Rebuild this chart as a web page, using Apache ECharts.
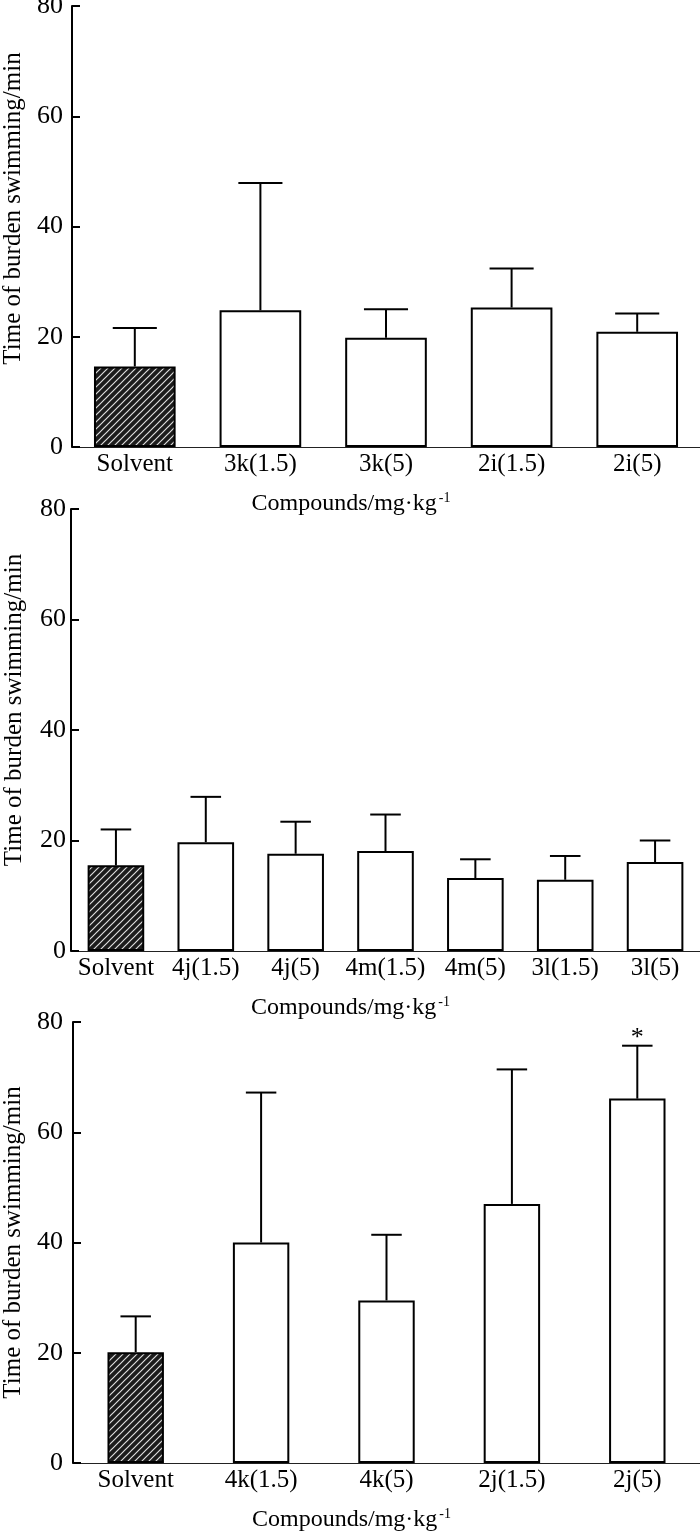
<!DOCTYPE html>
<html>
<head>
<meta charset="utf-8">
<script src="https://cdn.jsdelivr.net/npm/echarts@6/dist/echarts.min.js"></script>
<style>
  html, body { margin: 0; padding: 0; background: #fff; }
  #chart { width: 700px; height: 1534px; }
</style>
</head>
<body>
<div id="chart"></div>
<script>
// panel 1
const cats1 = ['Solvent', '3k(1.5)', '3k(5)', '2i(1.5)', '2i(5)'];
const mean1 = [14.6, 24.8, 19.8, 25.3, 20.9];
const err1 = [7.0, 23.1, 5.2, 7.1, 3.3];
const sig1 = ['', '', '', '', ''];
// panel 2
const cats2 = ['Solvent', '4j(1.5)', '4j(5)', '4m(1.5)', '4m(5)', '3l(1.5)', '3l(5)'];
const mean2 = [15.5, 19.7, 17.6, 18.1, 13.2, 12.9, 16.1];
const err2 = [6.5, 8.2, 5.8, 6.6, 3.4, 4.3, 3.9];
const sig2 = ['', '', '', '', '', '', ''];
// panel 3
const cats3 = ['Solvent', '4k(1.5)', '4k(5)', '2j(1.5)', '2j(5)'];
const mean3 = [20.1, 40.0, 29.5, 47.0, 66.1];
const err3 = [6.5, 27.2, 11.9, 24.4, 9.6];
const sig3 = ['', '', '', '', '*'];

const yTicks = [0, 20, 40, 60, 80];

const FONT = '"Liberation Serif", "Times New Roman", serif';

// hatch pattern for the solvent bar
const hatch = document.createElement('canvas');
hatch.width = 7;
hatch.height = 7;
(function () {
  const ctx = hatch.getContext('2d');
  ctx.fillStyle = '#1c1c1c';
  ctx.fillRect(0, 0, 7, 7);
  ctx.strokeStyle = 'rgba(255,255,255,0.85)';
  ctx.lineWidth = 1.2;
  ctx.beginPath();
  ctx.moveTo(0, 7); ctx.lineTo(7, 0);
  ctx.moveTo(-1, 1); ctx.lineTo(1, -1);
  ctx.moveTo(6, 8); ctx.lineTo(8, 6);
  ctx.stroke();
})();

const panels = [
  { cats: cats1, mean: mean1, err: err1, sig: sig1, barFrac: 0.65, grid: { left: 72, right: 0, top: 6, height: 441 }, labelMargin: 9, namePad: 36 },
  { cats: cats2, mean: mean2, err: err2, sig: sig2, barFrac: 0.63, grid: { left: 71, right: 0, top: 509, height: 442 }, labelMargin: 5, namePad: 40 },
  { cats: cats3, mean: mean3, err: err3, sig: sig3, barFrac: 0.45, grid: { left: 73, right: 0, top: 1022, height: 441 }, labelMargin: 10, namePad: 0 }
];

const grid = [], xAxis = [], yAxis = [], series = [];

panels.forEach((p, k) => {
  grid.push(Object.assign({ containLabel: false, outerBoundsMode: 'none' }, p.grid));
  xAxis.push({
    type: 'category',
    gridIndex: k,
    data: p.cats,
    name: '{a|Compounds/mg·kg}{b|-1}',
    nameLocation: 'middle',
    nameGap: 44,
    nameTextStyle: {
      padding: [0, 70, 0, 0],
      rich: {
        a: { fontFamily: FONT, fontSize: 24, color: '#000' },
        b: { fontFamily: FONT, fontSize: 14, color: '#000', verticalAlign: 'top', padding: [0, 0, 12, 2] }
      }
    },
    axisLine: { lineStyle: { color: '#222', width: 1.2 } },
    axisTick: { show: false },
    axisLabel: { fontFamily: FONT, fontSize: 25, color: '#000', margin: 5, interval: 0 }
  });
  yAxis.push({
    type: 'value',
    gridIndex: k,
    min: yTicks[0],
    max: yTicks[yTicks.length - 1],
    interval: 20,
    name: 'Time of burden swimming/min',
    nameLocation: 'middle',
    nameGap: 44,
    nameTextStyle: { fontFamily: FONT, fontSize: 25, color: '#000', padding: [0, 0, 0, p.namePad] },
    axisLine: { show: true, lineStyle: { color: '#000', width: 2 } },
    axisTick: { show: true, inside: true, length: 8, lineStyle: { color: '#000', width: 2 } },
    splitLine: { show: false },
    axisLabel: { fontFamily: FONT, fontSize: 26, color: '#000', margin: p.labelMargin }
  });
  series.push({
    type: 'bar',
    xAxisIndex: k,
    yAxisIndex: k,
    barWidth: (p.barFrac * 100) + '%',
    data: p.mean.map((v, i) => ({
      value: v,
      itemStyle: { color: i === 0 ? { image: hatch, repeat: 'repeat' } : '#fff' }
    })),
    itemStyle: { borderColor: '#000', borderWidth: 2 },
    silent: true,
    animation: false
  });
  series.push({
    type: 'custom',
    xAxisIndex: k,
    yAxisIndex: k,
    z: 3,
    silent: true,
    animation: false,
    data: p.mean.map((v, i) => [i, v, p.err[i]]),
    renderItem: function (params, api) {
      const i = api.value(0);
      const m = api.value(1);
      const e = api.value(2);
      const base = api.coord([i, m]);
      const top = api.coord([i, m + e]);
      const band = api.size([1, 0])[0];
      const half = band * p.barFrac * 0.54 / 2;
      const style = { stroke: '#000', lineWidth: 2 };
      const children = [
        { type: 'line', shape: { x1: base[0], y1: base[1], x2: top[0], y2: top[1] }, style },
        { type: 'line', shape: { x1: top[0] - half, y1: top[1], x2: top[0] + half, y2: top[1] }, style }
      ];
      const s = p.sig[params.dataIndex];
      if (s) {
        children.push({
          type: 'text',
          style: { text: s, x: top[0], y: top[1] + 5, align: 'center', verticalAlign: 'bottom', fontFamily: FONT, fontSize: 26, fill: '#000' }
        });
      }
      return { type: 'group', children };
    }
  });
});

const chart = echarts.init(document.getElementById('chart'), null, { renderer: 'canvas' });
chart.setOption({
  backgroundColor: '#fff',
  animation: false,
  grid,
  xAxis,
  yAxis,
  series
});
</script>
</body>
</html>
